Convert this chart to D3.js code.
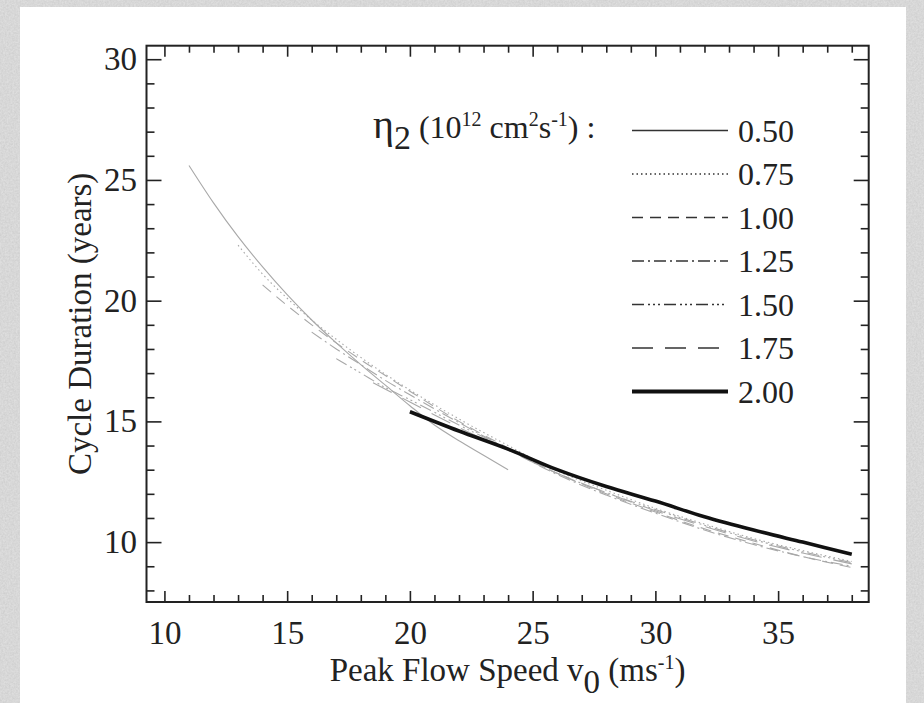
<!DOCTYPE html>
<html>
<head>
<meta charset="utf-8">
<script src="https://cdn.jsdelivr.net/npm/d3@7"></script>
<style>
  html, body { margin: 0; padding: 0; background: #fff; }
  svg { display: block; }
  text { font-family: "Liberation Serif", "Times New Roman", serif; fill: #222; }
</style>
</head>
<body>
<div id="chart"></div>
<script>
// Cycle duration vs. peak flow speed, one curve per eta_2 value
const etaLabels = ["0.50", "0.75", "1.00", "1.25", "1.50", "1.75", "2.00"];

const speed050 = [11, 12, 13, 14, 15, 16, 17, 18, 19, 20, 21, 22, 23, 24];
const cycle050 = [25.6, 24.05, 22.65, 21.4, 20.25, 19.2, 18.25, 17.35, 16.5, 15.65, 14.85, 14.2, 13.6, 13.0];

const speed075 = [13, 14, 15, 16, 17, 18, 19, 20, 22, 24, 26, 28, 30, 32, 34, 36, 38];
const cycle075 = [22.3, 21.1, 20.1, 19.2, 18.4, 17.65, 16.95, 16.3, 15.1, 14.0, 12.95, 12.15, 11.4, 10.75, 10.15, 9.65, 9.2];

const speed100 = [14, 15, 16, 17, 18, 19, 20, 22, 24, 26, 28, 30, 32, 34, 36, 38];
const cycle100 = [20.65, 19.8, 19.0, 18.25, 17.55, 16.9, 16.25, 15.0, 13.9, 12.85, 12.0, 11.25, 10.55, 9.95, 9.4, 8.95];

const speed125 = [16, 17, 18, 19, 20, 22, 24, 26, 28, 30, 32, 34, 36, 38];
const cycle125 = [18.7, 18.0, 17.35, 16.7, 16.1, 14.95, 13.85, 12.8, 11.95, 11.2, 10.5, 9.9, 9.4, 9.0];

const speed150 = [17, 18, 19, 20, 22, 24, 26, 28, 30, 32, 34, 36, 38];
const cycle150 = [17.6, 17.0, 16.4, 15.9, 14.85, 13.85, 12.85, 12.05, 11.35, 10.7, 10.1, 9.6, 9.15];

const speed175 = [18.5, 20, 22, 24, 26, 28, 30, 32, 34, 36, 38];
const cycle175 = [16.6, 15.8, 14.75, 13.8, 12.85, 12.05, 11.3, 10.65, 10.05, 9.55, 9.1];

const speed200 = [20, 22, 24, 26, 28, 30, 32, 34, 36, 38];
const cycle200 = [15.4, 14.6, 13.85, 13.0, 12.3, 11.7, 11.05, 10.5, 10.0, 9.5];

const xTicks = [10, 15, 20, 25, 30, 35];
const yTicks = [10, 15, 20, 25, 30];

const width = 924, height = 703;
const frame = { left: 146.5, right: 868.7, top: 45.7, bottom: 602 };

const svg = d3.select("#chart").append("svg")
    .attr("width", width)
    .attr("height", height);

// Grainy grey paper around the white panel
const defs = svg.append("defs");
const grain = defs.append("filter").attr("id", "grain").attr("x", 0).attr("y", 0).attr("width", "100%").attr("height", "100%");
grain.append("feTurbulence").attr("type", "fractalNoise").attr("baseFrequency", 0.55).attr("numOctaves", 3).attr("seed", 4).attr("result", "noise");
grain.append("feColorMatrix").attr("in", "noise").attr("type", "matrix")
    .attr("values", "0 0 0 0 0.55  0 0 0 0 0.55  0 0 0 0 0.55  0.9 0 0 0 -0.2");

svg.append("rect").attr("width", width).attr("height", height).attr("fill", "#dedede");
svg.append("rect").attr("width", width).attr("height", height).attr("filter", "url(#grain)");
svg.append("rect").attr("x", 20).attr("y", 7).attr("width", 886).attr("height", height - 7).attr("fill", "#fff");

const x = d3.scaleLinear().domain([9.27, 38.69]).range([frame.left, frame.right]);
const y = d3.scaleLinear().domain([7.52, 30.56]).range([frame.bottom, frame.top]);

const axisColor = "#222";

function styleAxis(g) {
    g.select(".domain").remove();
    g.selectAll(".tick line").attr("stroke", axisColor).attr("stroke-width", 1.6);
    g.selectAll(".tick text").attr("font-size", "33px").attr("fill", axisColor);
}

const xMinor = d3.range(10, 39).filter(v => v % 5 !== 0);
const yMinor = d3.range(8, 31).filter(v => v % 5 !== 0);

// bottom & top ticks (inward)
svg.append("g").attr("transform", `translate(0,${frame.bottom})`)
    .call(d3.axisBottom(x).tickValues(xMinor).tickSize(-7).tickFormat(""))
    .call(styleAxis);
svg.append("g").attr("transform", `translate(0,${frame.bottom})`)
    .call(d3.axisBottom(x).tickValues(xTicks).tickSize(-11).tickPadding(18.5).tickFormat(d3.format("d")))
    .call(styleAxis);
svg.append("g").attr("transform", `translate(0,${frame.top})`)
    .call(d3.axisTop(x).tickValues(xMinor).tickSize(-7).tickFormat(""))
    .call(styleAxis);
svg.append("g").attr("transform", `translate(0,${frame.top})`)
    .call(d3.axisTop(x).tickValues(xTicks).tickSize(-11).tickFormat(""))
    .call(styleAxis);

// left & right ticks (inward)
svg.append("g").attr("transform", `translate(${frame.left},0)`)
    .call(d3.axisLeft(y).tickValues(yMinor).tickSize(-8).tickFormat(""))
    .call(styleAxis);
svg.append("g").attr("transform", `translate(${frame.left},0)`)
    .call(d3.axisLeft(y).tickValues(yTicks).tickSize(-15).tickPadding(9.5).tickFormat(d3.format("d")))
    .call(styleAxis);
svg.append("g").attr("transform", `translate(${frame.right},0)`)
    .call(d3.axisRight(y).tickValues(yMinor).tickSize(-8).tickFormat(""))
    .call(styleAxis);
svg.append("g").attr("transform", `translate(${frame.right},0)`)
    .call(d3.axisRight(y).tickValues(yTicks).tickSize(-15).tickFormat(""))
    .call(styleAxis);

svg.append("rect")
    .attr("x", frame.left).attr("y", frame.top)
    .attr("width", frame.right - frame.left).attr("height", frame.bottom - frame.top)
    .attr("fill", "none").attr("stroke", axisColor).attr("stroke-width", 2);

// Curves
const series = [
    { label: etaLabels[0], xs: speed050, ys: cycle050, dash: null, width: 1.1 },
    { label: etaLabels[1], xs: speed075, ys: cycle075, dash: "1.5,3", width: 1.1 },
    { label: etaLabels[2], xs: speed100, ys: cycle100, dash: "11,7", width: 1.1 },
    { label: etaLabels[3], xs: speed125, ys: cycle125, dash: "12,4,2,4", width: 1.1 },
    { label: etaLabels[4], xs: speed150, ys: cycle150, dash: "12,4,2,3,2,3,2,4", width: 1.1 },
    { label: etaLabels[5], xs: speed175, ys: cycle175, dash: "21,12", width: 1.1 },
    { label: etaLabels[6], xs: speed200, ys: cycle200, dash: null, width: 3.6 }
];

const line = d3.line()
    .x(d => x(d[0]))
    .y(d => y(d[1]))
    .curve(d3.curveMonotoneX);

const curveGroup = svg.append("g").attr("class", "curves");
series.forEach((s, i) => {
    const last = i === series.length - 1;
    curveGroup.append("path")
        .datum(d3.zip(s.xs, s.ys))
        .attr("d", line)
        .attr("fill", "none")
        .attr("stroke", last ? "#111" : "#a8a8a8")
        .attr("stroke-width", s.width)
        .attr("stroke-dasharray", s.dash);
});

// Legend
const legend = svg.append("g").attr("class", "legend");
const legTop = 130.5, legStep = 43.5;

const legTitle = legend.append("text").attr("x", 373).attr("y", 138).attr("font-size", "32px");
legTitle.append("tspan").attr("font-size", "40px").text("η");
legTitle.append("tspan").attr("dy", 11).attr("font-size", "34px").text("2");
legTitle.append("tspan").attr("dy", -11).text(" (10");
legTitle.append("tspan").attr("dy", -12).attr("font-size", "20px").text("12");
legTitle.append("tspan").attr("dy", 12).text(" cm");
legTitle.append("tspan").attr("dy", -12).attr("font-size", "20px").text("2");
legTitle.append("tspan").attr("dy", 12).text("s");
legTitle.append("tspan").attr("dy", -12).attr("font-size", "20px").text("-1");
legTitle.append("tspan").attr("dy", 12).text(") :");

series.forEach((s, i) => {
    const yy = legTop + i * legStep;
    const last = i === series.length - 1;
    legend.append("line")
        .attr("x1", 632).attr("x2", 728)
        .attr("y1", yy).attr("y2", yy)
        .attr("stroke", last ? "#111" : "#333")
        .attr("stroke-width", last ? 4 : 1.4)
        .attr("stroke-dasharray", s.dash);
    legend.append("text")
        .attr("x", 738).attr("y", yy + 11)
        .attr("font-size", "32px")
        .text(s.label);
});

// Axis titles
const xTitle = svg.append("text")
    .attr("x", (frame.left + frame.right) / 2).attr("y", 681)
    .attr("text-anchor", "middle").attr("font-size", "33px");
xTitle.append("tspan").text("Peak Flow Speed v");
xTitle.append("tspan").attr("dy", 12).text("0");
xTitle.append("tspan").attr("dy", -12).text(" (ms");
xTitle.append("tspan").attr("dy", -12).attr("font-size", "20px").text("-1");
xTitle.append("tspan").attr("dy", 12).text(")");

svg.append("text")
    .attr("transform", `translate(91,${(frame.top + frame.bottom) / 2}) rotate(-90)`)
    .attr("text-anchor", "middle").attr("font-size", "33px")
    .text("Cycle Duration (years)");
</script>
</body>
</html>
